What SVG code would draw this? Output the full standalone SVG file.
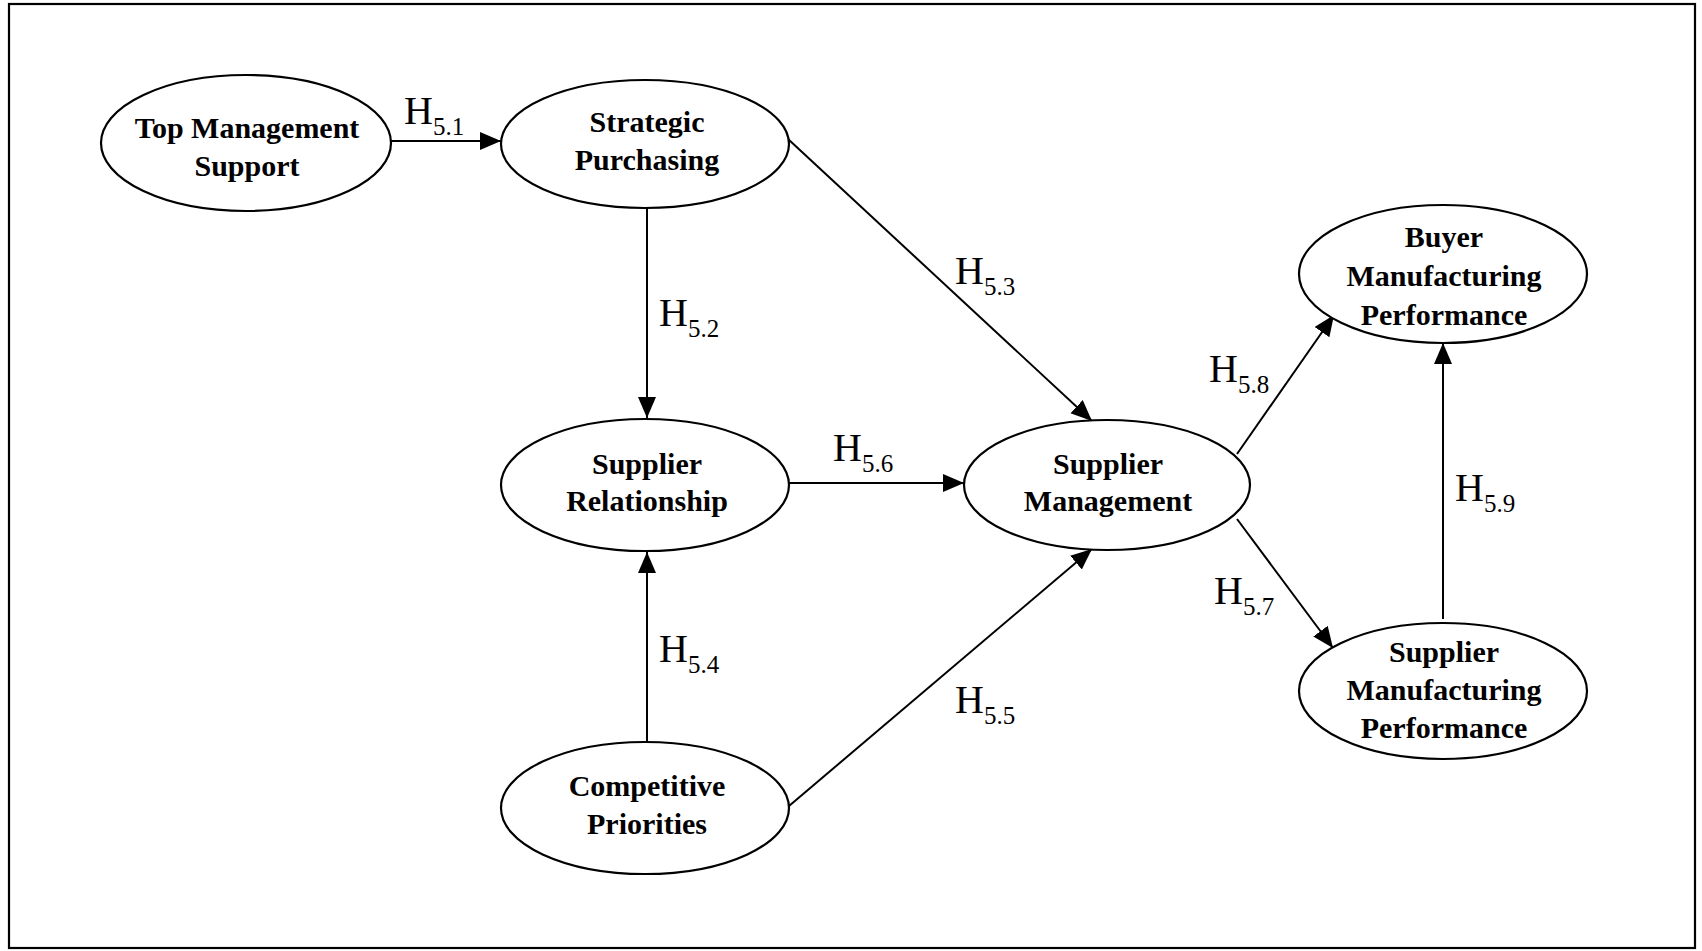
<svg xmlns="http://www.w3.org/2000/svg" width="1702" height="951" viewBox="0 0 1702 951">
  <style>
    .node ellipse { fill: #ffffff; stroke: #000000; stroke-width: 2.2; }
    .node text { font-family: "Liberation Serif", "Times New Roman", serif; font-weight: bold; font-size: 30px; text-anchor: middle; fill: #000000; }
    .edge { stroke: #000000; stroke-width: 2; fill: none; marker-end: url(#arrow); }
    .hyp { font-family: "Liberation Serif", "Times New Roman", serif; font-size: 40px; fill: #000000; }
    .hyp tspan { font-size: 25px; }
  </style>
  <defs>
    <marker id="arrow" markerUnits="userSpaceOnUse" markerWidth="22" markerHeight="20" refX="21" refY="9" orient="auto">
      <path d="M0,0 L21,9 L0,18 Z" fill="#000000"/>
    </marker>
  </defs>

  <rect x="0" y="0" width="1702" height="951" fill="#ffffff"/>
  <!-- frame -->
  <rect x="9" y="4" width="1686" height="944" fill="none" stroke="#000000" stroke-width="2.2"/>

  <!-- connectors -->
  <g id="connectors">
    <line class="edge" x1="390" y1="141" x2="501" y2="141"/>
    <line class="edge" x1="647" y1="208" x2="647" y2="418"/>
    <line class="edge" x1="788" y1="139" x2="1092" y2="421"/>
    <line class="edge" x1="647" y1="742" x2="647" y2="552"/>
    <line class="edge" x1="789" y1="806" x2="1092" y2="549"/>
    <line class="edge" x1="789" y1="483" x2="964" y2="483"/>
    <line class="edge" x1="1237" y1="519" x2="1333" y2="648"/>
    <line class="edge" x1="1237" y1="454" x2="1334" y2="315"/>
    <line class="edge" x1="1443" y1="619" x2="1443" y2="343"/>

    <text class="hyp" x="404" y="124">H<tspan dy="11">5.1</tspan></text>
    <text class="hyp" x="659" y="326">H<tspan dy="11">5.2</tspan></text>
    <text class="hyp" x="955" y="284">H<tspan dy="11">5.3</tspan></text>
    <text class="hyp" x="659" y="662">H<tspan dy="11">5.4</tspan></text>
    <text class="hyp" x="955" y="713">H<tspan dy="11">5.5</tspan></text>
    <text class="hyp" x="833" y="461">H<tspan dy="11">5.6</tspan></text>
    <text class="hyp" x="1214" y="604">H<tspan dy="11">5.7</tspan></text>
    <text class="hyp" x="1209" y="382">H<tspan dy="11">5.8</tspan></text>
    <text class="hyp" x="1455" y="501">H<tspan dy="11">5.9</tspan></text>
  </g>

  <!-- nodes -->
  <g id="top-management-support" class="node">
    <ellipse cx="246" cy="143" rx="145" ry="68"/>
    <text x="247" y="138">Top Management</text>
    <text x="247" y="176">Support</text>
  </g>
  <g id="strategic-purchasing" class="node">
    <ellipse cx="645" cy="144" rx="144" ry="64"/>
    <text x="647" y="132">Strategic</text>
    <text x="647" y="170">Purchasing</text>
  </g>
  <g id="supplier-relationship" class="node">
    <ellipse cx="645" cy="485" rx="144" ry="66"/>
    <text x="647" y="474">Supplier</text>
    <text x="647" y="511">Relationship</text>
  </g>
  <g id="competitive-priorities" class="node">
    <ellipse cx="645" cy="808" rx="144" ry="66"/>
    <text x="647" y="796">Competitive</text>
    <text x="647" y="834">Priorities</text>
  </g>
  <g id="supplier-management" class="node">
    <ellipse cx="1107" cy="485" rx="143" ry="65"/>
    <text x="1108" y="474">Supplier</text>
    <text x="1108" y="511">Management</text>
  </g>
  <g id="buyer-manufacturing-performance" class="node">
    <ellipse cx="1443" cy="274" rx="144" ry="69"/>
    <text x="1444" y="247">Buyer</text>
    <text x="1444" y="286">Manufacturing</text>
    <text x="1444" y="325">Performance</text>
  </g>
  <g id="supplier-manufacturing-performance" class="node">
    <ellipse cx="1443" cy="691" rx="144" ry="68"/>
    <text x="1444" y="662">Supplier</text>
    <text x="1444" y="700">Manufacturing</text>
    <text x="1444" y="738">Performance</text>
  </g>
</svg>
